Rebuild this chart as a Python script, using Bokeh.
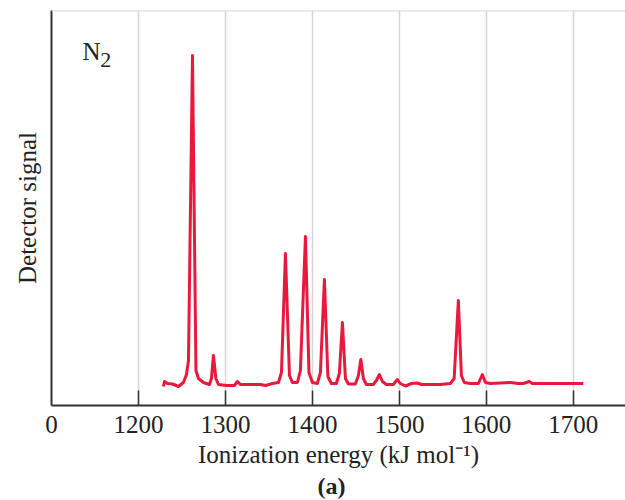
from bokeh.plotting import figure
from bokeh.models import FixedTicker, Range1d, Span, Label, Title
from bokeh.embed import file_html
from bokeh.resources import INLINE

# Ionization energy (kJ/mol) and detector signal (arbitrary units)
energy = [1228.7, 1229.9, 1233.3, 1239.1, 1246.0, 1251.7, 1255.2, 1257.5, 1262.1, 1266.1,
          1269.0, 1274.7, 1281.6, 1283.9, 1286.2, 1289.0, 1292.0, 1301.0, 1310.3, 1313.8,
          1317.2, 1340.2, 1346.0, 1354.0, 1361.0, 1364.4, 1369.0, 1373.6, 1377.0, 1382.8,
          1386.2, 1392.0, 1396.0, 1400.0, 1405.7, 1409.2, 1413.8, 1417.8, 1421.8, 1427.6,
          1431.0, 1434.5, 1438.0, 1441.4, 1449.4, 1452.9, 1455.7, 1458.6, 1462.0, 1470.0,
          1473.6, 1477.0, 1480.5, 1485.0, 1493.0, 1497.7, 1501.0, 1507.0, 1513.8, 1520.7,
          1525.3, 1547.0, 1558.6, 1563.0, 1567.8, 1571.3, 1574.7, 1581.6, 1590.8, 1595.4,
          1598.9, 1604.6, 1616.0, 1627.6, 1636.8, 1642.5, 1649.4, 1652.9, 1667.8, 1711.5]
signal = [19, 24, 22, 21.5, 19, 23, 31, 45, 350, 35,
          27, 23, 21, 27, 50, 27, 21, 20, 20, 24,
          21, 21, 20, 22, 23, 33, 152, 30, 23, 23,
          35, 169, 33, 23, 22, 33, 126, 29, 22, 22,
          32, 83, 27, 21.5, 21.5, 30, 46, 27, 21, 21,
          25, 31, 24, 21, 21, 26, 22, 19.5, 22, 22.5,
          21, 21, 22, 27, 105, 30, 23, 22, 22, 31,
          23, 22, 22.5, 23, 22, 22, 24, 22, 22, 22]

tick_values = [1100, 1200, 1300, 1400, 1500, 1600, 1700]
tick_labels = ["0", "1200", "1300", "1400", "1500", "1600", "1700"]
grid_values = [1200, 1300, 1400, 1500, 1600, 1700]

FONT = "Liberation Serif"
RED = "#E8193C"
AXIS = "#333333"
GRID = "#d6d6d6"
TXT = "#222222"

p = figure(width=625, height=500,
           x_range=Range1d(1100, 1760), y_range=Range1d(0, 395),
           output_backend="svg", toolbar_location=None,
           min_border_left=51, min_border_right=0, min_border_top=10, min_border_bottom=95)
p.outline_line_color = None
p.background_fill_color = "white"
p.border_fill_color = "white"

# x axis
xa = p.xaxis[0]
xa.ticker = FixedTicker(ticks=tick_values, minor_ticks=grid_values)
xa.major_label_overrides = {v: s for v, s in zip(tick_values, tick_labels)}
xa.major_tick_in = 0
xa.major_tick_out = 0
xa.minor_tick_in = 15
xa.minor_tick_out = 0
xa.minor_tick_line_color = AXIS
xa.minor_tick_line_width = 1.5
xa.axis_line_color = AXIS
xa.axis_line_width = 2
xa.major_label_text_font = FONT
xa.major_label_text_font_size = "25px"
xa.major_label_text_color = TXT
xa.major_label_standoff = 10
xa.axis_label = "Ionization energy (kJ mol\u207b\u00b9)"
xa.axis_label_text_font = FONT
xa.axis_label_text_font_size = "25px"
xa.axis_label_text_font_style = "normal"
xa.axis_label_text_color = TXT
xa.axis_label_standoff = 5

# y axis
ya = p.yaxis[0]
ya.ticker = FixedTicker(ticks=[])
ya.major_tick_in = 0
ya.major_tick_out = 0
ya.minor_tick_in = 0
ya.minor_tick_out = 0
ya.axis_line_color = AXIS
ya.axis_line_width = 2
ya.axis_label = "Detector signal"
ya.axis_label_text_font = FONT
ya.axis_label_text_font_size = "25px"
ya.axis_label_text_font_style = "normal"
ya.axis_label_text_color = TXT
ya.axis_label_standoff = 11

# grid
p.ygrid.visible = False
p.xgrid.ticker = FixedTicker(ticks=grid_values)
p.xgrid.grid_line_color = GRID
p.xgrid.grid_line_width = 1.5
p.add_layout(Span(location=395, dimension="width", line_color=GRID, line_width=2))

# spectrum
p.line(energy, signal, line_color=RED, line_width=3, line_join="round")

# annotations
p.add_layout(Label(x=1135.6, y=354, text="N", text_font=FONT, text_font_size="25px",
                   text_color=TXT, text_baseline="alphabetic"))
p.add_layout(Label(x=1156.0, y=346, text="2", text_font=FONT, text_font_size="22px",
                   text_color=TXT, text_baseline="alphabetic"))
p.add_layout(Title(text="(a)", text_font=FONT, text_font_size="24px",
                   text_font_style="bold", text_color=TXT, align="left", offset=266,
                   standoff=0), "below")

open("out.html", "w").write(file_html(p, INLINE))
